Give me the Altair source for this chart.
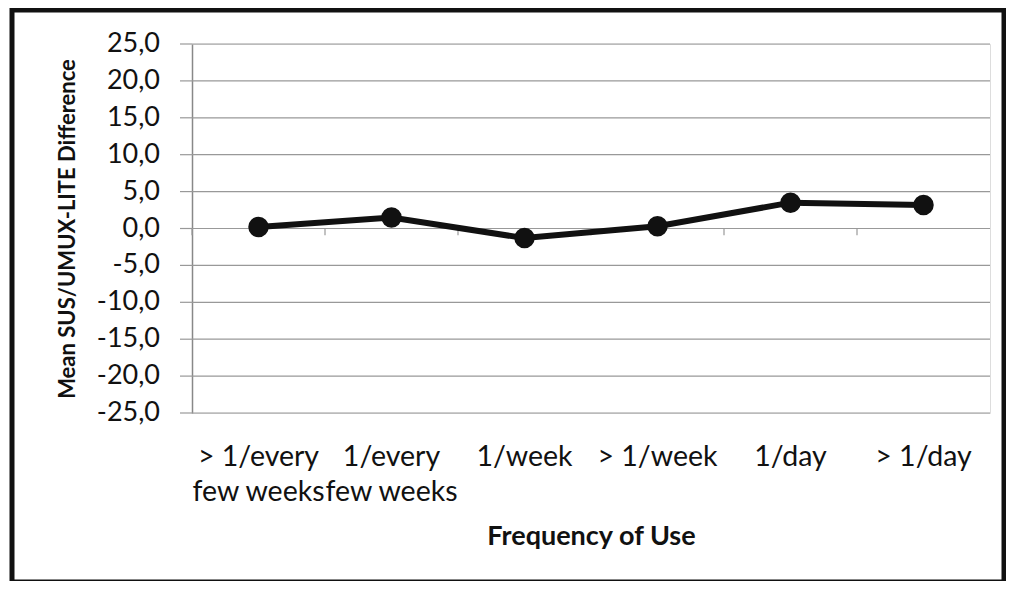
import altair as alt
import pandas as pd

categories = ["> 1/every\nfew weeks", "1/every\nfew weeks", "1/week", "> 1/week", "1/day", "> 1/day"]
values = [0.2, 1.5, -1.3, 0.3, 3.5, 3.2]
y_ticks = [-25, -20, -15, -10, -5, 0, 5, 10, 15, 20, 25]
y_tick_labels = ["-25,0", "-20,0", "-15,0", "-10,0", "-5,0", "0,0", "5,0", "10,0", "15,0", "20,0", "25,0"]

df = pd.DataFrame({"cat": categories, "val": values})
grid_df = pd.DataFrame({"v": y_ticks, "lab": y_tick_labels})
FONT = "Lato"

x_axis = alt.Axis(labelExpr="split(datum.label, '\\n')", labelAngle=0, labelAlign="center",
                  labelFontSize=28.5, labelLineHeight=35, labelPadding=29,
                  labelOverlap=False, labelBound=False,
                  ticks=False, domain=False, grid=False,
                  titleFontSize=27, titleFontWeight="bold", titlePadding=18,
                  labelFont=FONT, titleFont=FONT, labelColor="#111", titleColor="#111")
y_axis = alt.Axis(labels=False, ticks=False, grid=False,
                  domain=True, domainColor="#888", domainWidth=1.5,
                  titleFontSize=22, titleFontWeight="bold", titlePadding=113,
                  titleFont=FONT, titleColor="#111")
x_scale = alt.Scale(paddingInner=0, paddingOuter=0)
y_scale = alt.Scale(domain=[-25, 25], nice=False, zero=False)
Y_TITLE = "Mean SUS/UMUX-LITE Difference"
X_TITLE = "Frequency of Use"

x_enc = alt.X("cat:N", sort=categories, title=X_TITLE, scale=x_scale, axis=x_axis)
y_enc = alt.Y("val:Q", title=Y_TITLE, scale=y_scale, axis=y_axis)

grid = alt.Chart(grid_df).mark_rule(color="#999", strokeWidth=1.2).encode(
    y=alt.Y("v:Q", title=Y_TITLE, scale=y_scale, axis=y_axis))
yticks = alt.Chart(grid_df).mark_rule(color="#999", strokeWidth=1.2, clip=False).encode(
    y=alt.Y("v:Q", title=Y_TITLE, scale=y_scale, axis=y_axis),
    x=alt.value(-12), x2=alt.value(0))
ylabels = alt.Chart(grid_df).mark_text(align="right", baseline="middle", font=FONT,
                                       fontSize=27, color="#111", clip=False).encode(
    y=alt.Y("v:Q", title=Y_TITLE, scale=y_scale, axis=y_axis),
    x=alt.value(-32), text="lab:N")

line = alt.Chart(df).mark_line(color="#111", strokeWidth=6).encode(x=x_enc, y=y_enc)
points = alt.Chart(df).mark_point(filled=True, color="#111", size=420, opacity=1).encode(
    x=x_enc, y=y_enc)

tick_df = pd.DataFrame({"cat": categories})
ticks = alt.Chart(tick_df).mark_rule(color="#999", strokeWidth=1.2).encode(
    x=alt.X("cat:N", sort=categories, bandPosition=0, title=X_TITLE, scale=x_scale, axis=x_axis),
    y=alt.Y(datum=0, title=Y_TITLE, scale=y_scale, axis=y_axis), y2=alt.datum(-0.9))

frame_df = pd.DataFrame({"k": [0]})
frame = alt.Chart(frame_df).mark_rect(fill=None, stroke="#111", strokeWidth=5, clip=False).encode(
    x=alt.value(-180), x2=alt.value(812), y=alt.value(-34), y2=alt.value(538))

chart = alt.layer(grid, yticks, ylabels, ticks, line, points, frame).properties(
    width=798, height=369,
    autosize=alt.AutoSizeParams(type="none"),
    padding={"left": 184, "top": 36, "right": 16, "bottom": 168},
).configure_view(stroke="#999", strokeWidth=1.2).configure(background="white")

chart.save("out.html", embed_options={"renderer": "svg", "actions": False})
